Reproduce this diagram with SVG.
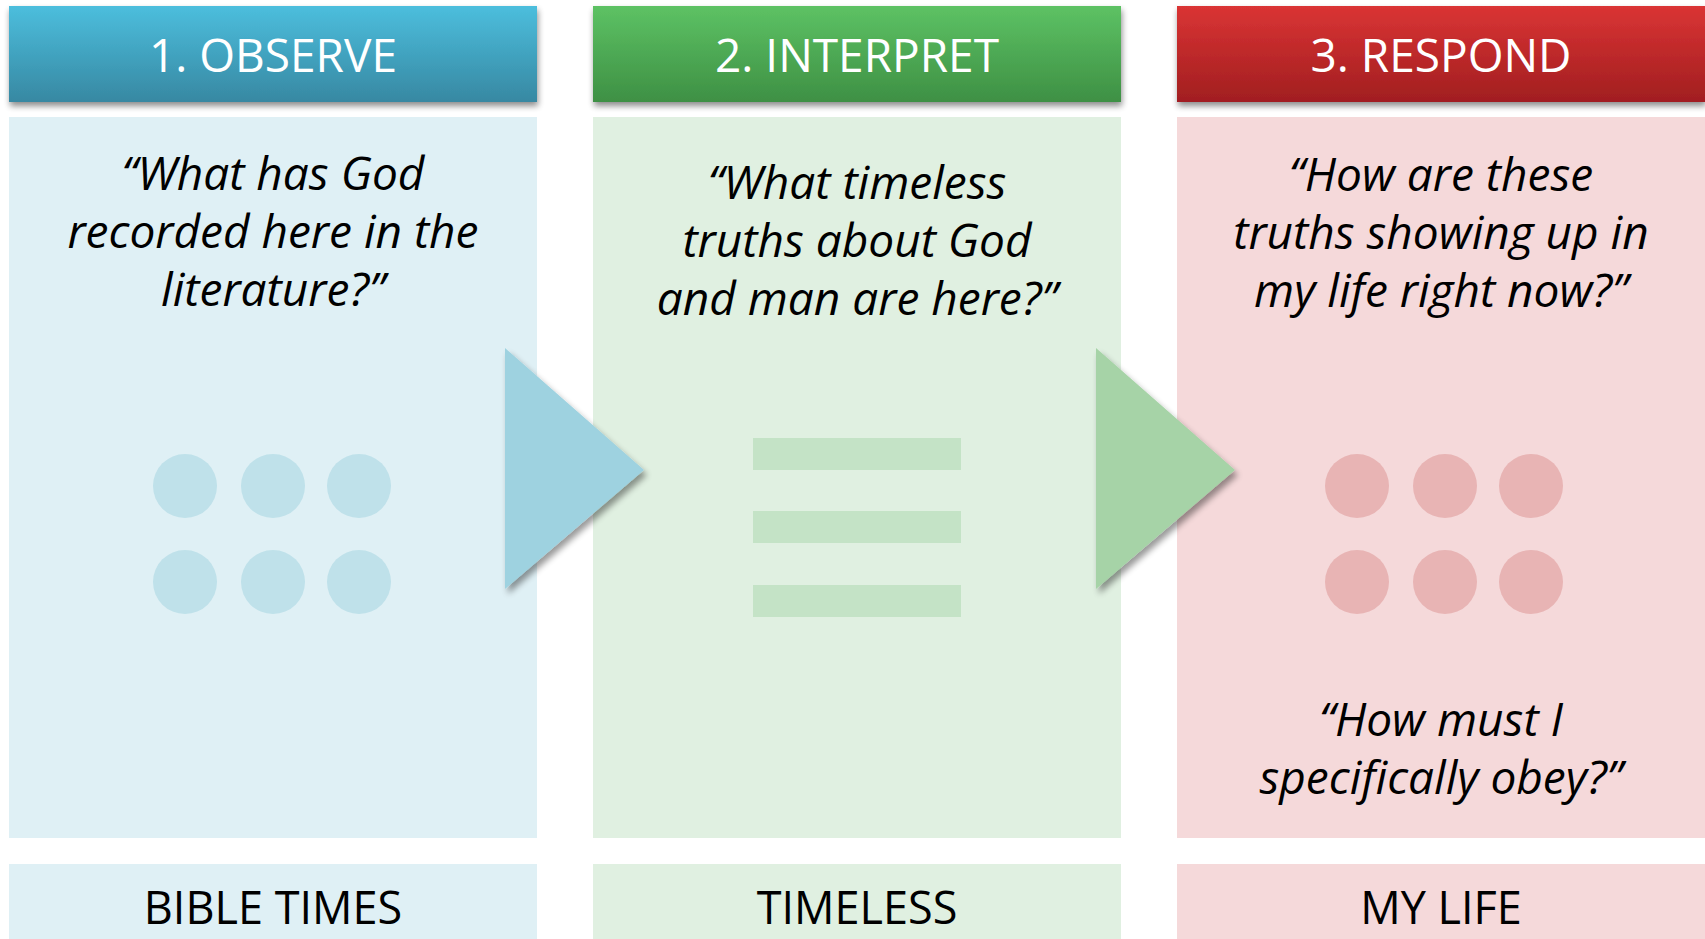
<svg xmlns="http://www.w3.org/2000/svg" width="1705" height="939" viewBox="0 0 1705 939">
<defs>
<linearGradient id="gBlue" x1="0" y1="0" x2="0" y2="1"><stop offset="0" stop-color="#4CBEDD"/><stop offset="1" stop-color="#3788A2"/></linearGradient>
<linearGradient id="gGreen" x1="0" y1="0" x2="0" y2="1"><stop offset="0" stop-color="#5DC264"/><stop offset="1" stop-color="#3E9044"/></linearGradient>
<linearGradient id="gRed" x1="0" y1="0" x2="0" y2="1"><stop offset="0" stop-color="#DA3434"/><stop offset="1" stop-color="#A11E20"/></linearGradient>
<filter id="sh" x="-10%" y="-10%" width="120%" height="130%"><feGaussianBlur in="SourceAlpha" stdDeviation="3"/><feOffset dx="1" dy="4"/><feComponentTransfer><feFuncA type="linear" slope="0.45"/></feComponentTransfer><feMerge><feMergeNode/><feMergeNode in="SourceGraphic"/></feMerge></filter>
<filter id="tsh" x="-20%" y="-20%" width="150%" height="150%"><feGaussianBlur in="SourceAlpha" stdDeviation="3"/><feOffset dx="3" dy="5"/><feComponentTransfer><feFuncA type="linear" slope="0.4"/></feComponentTransfer><feMerge><feMergeNode/><feMergeNode in="SourceGraphic"/></feMerge></filter>
</defs>
<style>
.hd{font-family:"Open Sans","Noto Sans",sans-serif;font-size:46px;fill:#fff;text-anchor:middle;font-weight:400}
.q{font-family:"Open Sans","Noto Sans",sans-serif;font-size:46px;font-style:italic;fill:#000;text-anchor:middle}
.ft{font-family:"Open Sans","Noto Sans",sans-serif;font-size:45px;fill:#000;text-anchor:middle}
</style>
<g id="col-observe">
<rect x="9" y="117" width="528" height="721" fill="#DFF0F5"/>
<rect x="9" y="6" width="528" height="96" fill="url(#gBlue)" filter="url(#sh)"/>
<text class="hd" x="273" y="72">1. OBSERVE</text>
<text class="q"><tspan x="273" y="190">“What has God</tspan><tspan x="273" y="248">recorded here in the</tspan><tspan x="273" y="306">literature?”</tspan></text>
<g fill="#BFE1EA"><circle cx="185" cy="486" r="32"/><circle cx="273" cy="486" r="32"/><circle cx="359" cy="486" r="32"/><circle cx="185" cy="582" r="32"/><circle cx="273" cy="582" r="32"/><circle cx="359" cy="582" r="32"/></g>
</g>
<g id="col-interpret">
<rect x="593" y="117" width="528" height="721" fill="#E0F0E1"/>
<rect x="593" y="6" width="528" height="96" fill="url(#gGreen)" filter="url(#sh)"/>
<text class="hd" x="857" y="72">2. INTERPRET</text>
<text class="q"><tspan x="857" y="199">“What timeless</tspan><tspan x="857" y="257">truths about God</tspan><tspan x="857" y="315">and man are here?”</tspan></text>
<g fill="#C4E3C6"><rect x="753" y="438" width="208" height="32"/><rect x="753" y="511" width="208" height="32"/><rect x="753" y="585" width="208" height="32"/></g>
</g>
<g id="col-respond">
<rect x="1177" y="117" width="528" height="721" fill="#F5D9DA"/>
<rect x="1177" y="6" width="528" height="96" fill="url(#gRed)" filter="url(#sh)"/>
<text class="hd" x="1441" y="72">3. RESPOND</text>
<text class="q"><tspan x="1441" y="191">“How are these</tspan><tspan x="1441" y="249">truths showing up in</tspan><tspan x="1441" y="307">my life right now?”</tspan></text>
<g fill="#E8B4B4"><circle cx="1357" cy="486" r="32"/><circle cx="1445" cy="486" r="32"/><circle cx="1531" cy="486" r="32"/><circle cx="1357" cy="582" r="32"/><circle cx="1445" cy="582" r="32"/><circle cx="1531" cy="582" r="32"/></g>
<text class="q"><tspan x="1441" y="736">“How must I</tspan><tspan x="1441" y="794">specifically obey?”</tspan></text>
</g>
<g id="connectors">
<polygon points="505,348 644,470 505,589" fill="#9ED2E0" filter="url(#tsh)"/>
<polygon points="1096,348 1235,470 1096,589" fill="#A6D3A7" filter="url(#tsh)"/>
</g>
<g id="label-bible-times"><rect x="9" y="864" width="528" height="75" fill="#DFF0F5"/><text class="ft" x="273" y="924">BIBLE TIMES</text></g>
<g id="label-timeless"><rect x="593" y="864" width="528" height="75" fill="#E0F0E1"/><text class="ft" x="857" y="924">TIMELESS</text></g>
<g id="label-my-life"><rect x="1177" y="864" width="528" height="75" fill="#F5D9DA"/><text class="ft" x="1441" y="924">MY LIFE</text></g>
</svg>
